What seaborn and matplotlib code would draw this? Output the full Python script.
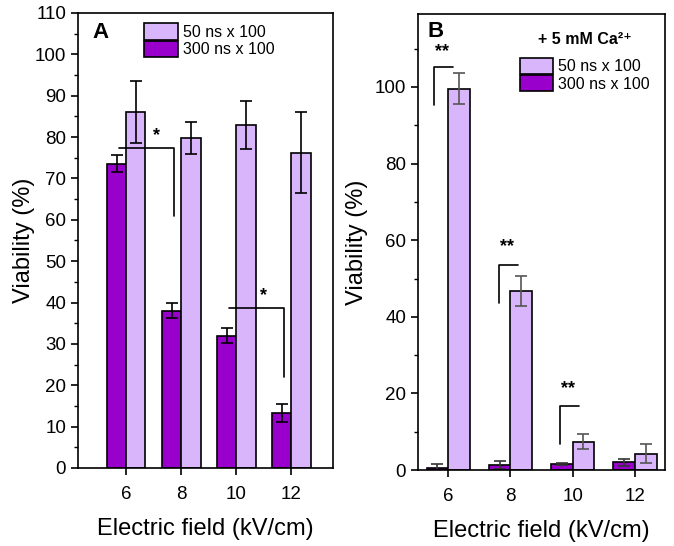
import numpy as np
import pandas as pd
import matplotlib
matplotlib.use('Agg')
import matplotlib.pyplot as plt
from matplotlib.patches import Patch
from matplotlib.ticker import MultipleLocator
import seaborn as sns

# data
field = [6, 8, 10, 12]

# panel A (no Ca)
a_50 = [86.0, 79.8, 83.0, 76.2]
a_50_err = [7.5, 3.9, 5.8, 9.8]
a_300 = [73.6, 38.0, 32.0, 13.2]
a_300_err = [2.1, 1.8, 1.9, 2.2]

# panel B (+ 5 mM Ca2+)
b_50 = [99.6, 46.7, 7.4, 4.3]
b_50_err = [4.1, 3.9, 2.0, 2.5]
b_300 = [0.5, 1.4, 1.6, 2.0]
b_300_err = [1.1, 1.1, 0.3, 0.8]

light = '#d9b5fb'
dark = '#9a00cc'
labels = ['300 ns x 100', '50 ns x 100']

sns.set_theme(style='ticks')
plt.rcParams['font.family'] = ['Liberation Sans', 'DejaVu Sans']
plt.rcParams['text.color'] = 'black'
plt.rcParams['axes.labelcolor'] = 'black'
plt.rcParams['xtick.color'] = 'black'
plt.rcParams['ytick.color'] = 'black'
plt.rcParams['axes.linewidth'] = 1.2
plt.rcParams['xtick.major.width'] = 1.2
plt.rcParams['ytick.major.width'] = 1.2
plt.rcParams['ytick.minor.width'] = 1.0
plt.rcParams['xtick.major.size'] = 5
plt.rcParams['ytick.major.size'] = 5
plt.rcParams['ytick.minor.size'] = 3


def panel(ax, v50, e50, v300, e300, errcol, ypad):
    df = pd.DataFrame({
        'field': field * 2,
        'viab': v300 + v50,
        'pulse': [labels[0]] * 4 + [labels[1]] * 4,
    })
    sns.barplot(data=df, x='field', y='viab', hue='pulse', hue_order=labels,
                palette=[dark, light], saturation=1, native_scale=True,
                width=0.7, gap=0, errorbar=None, edgecolor='black',
                linewidth=1.2, legend=False, ax=ax)
    # error bars on the bar centres
    for i, (vals, errs) in enumerate([(v300, e300), (v50, e50)]):
        off = -0.35 if i == 0 else 0.35
        xs = np.array(field) + off
        ax.errorbar(xs, vals, yerr=errs, fmt='none', ecolor=errcol[i],
                    elinewidth=1.2, capsize=4, capthick=1.2)
    ax.set_xticks(field)
    ax.set_xticklabels([str(f) for f in field])
    ax.tick_params(axis='both', labelsize=13.5, direction='out', top=False, right=False)
    ax.tick_params(axis='x', pad=8)
    ax.set_xlabel('Electric field (kV/cm)', fontsize=17, labelpad=11)
    ax.set_ylabel('Viability (%)', fontsize=17, labelpad=ypad)
    for s in ax.spines.values():
        s.set_visible(True)
        s.set_color('black')


fig = plt.figure(figsize=(6.74, 5.46), dpi=100)
axA = fig.add_axes([0.1157, 0.1429, 0.378, 0.8333])
axB = fig.add_axes([0.620, 0.139, 0.3665, 0.835])

panel(axA, a_50, a_50_err, a_300, a_300_err, ['black', 'black'], 0)
axA.set_xlim(4.25, 13.5)
axA.set_ylim(0, 110)
axA.yaxis.set_major_locator(MultipleLocator(10))
axA.yaxis.set_minor_locator(MultipleLocator(5))

panel(axB, b_50, b_50_err, b_300, b_300_err, ['#333333', '#555555'], 5)
axB.set_xlim(5.02, 12.97)
axB.set_ylim(0, 119)
axB.yaxis.set_major_locator(MultipleLocator(20))
axB.yaxis.set_minor_locator(MultipleLocator(10))

handles = [Patch(facecolor=light, edgecolor='black', linewidth=1.2, label='50 ns x 100'),
           Patch(facecolor=dark, edgecolor='black', linewidth=1.2, label='300 ns x 100')]
axA.legend(handles=handles, loc='upper left', bbox_to_anchor=(0.21, 1.005),
           frameon=False, fontsize=11.5, handlelength=2.1, handleheight=1.2,
           handletextpad=0.3, labelspacing=0.05, borderaxespad=0.4)
legB = axB.legend(handles=handles, loc='upper right', bbox_to_anchor=(0.99, 0.99),
                  frameon=False, fontsize=11.5, handlelength=2.1, handleheight=1.2,
                  handletextpad=0.3, labelspacing=0.05, borderaxespad=0.4,
                  title='+ 5 mM Ca²⁺', title_fontproperties={'weight': 'bold', 'size': 11.5})
legB._legend_box.sep = 8

axA.text(0.055, 0.98, 'A', transform=axA.transAxes, fontsize=16, fontweight='bold', va='top')
axB.text(0.04, 0.985, 'B', transform=axB.transAxes, fontsize=16, fontweight='bold', va='top')

# significance brackets, panel A
axA.plot([5.75, 7.75, 7.75], [77.3, 77.3, 60.8], color='black', lw=1.2)
axA.text(7.1, 78.3, '*', ha='center', va='bottom', fontsize=13, fontweight='bold')
axA.plot([9.72, 11.72, 11.72], [38.6, 38.6, 21.9], color='black', lw=1.2)
axA.text(11.0, 39.6, '*', ha='center', va='bottom', fontsize=13, fontweight='bold')

# significance brackets, panel B
for x0, x1, yh, yl, ys in [(5.55, 6.16, 105.2, 95.4, 107.0),
                           (7.63, 8.25, 53.5, 43.7, 56.0),
                           (9.60, 10.22, 16.7, 6.7, 19.0)]:
    axB.plot([x0, x0, x1], [yl, yh, yh], color='black', lw=1.2)
    axB.text((x0 + x1) / 2 - 0.05, ys, '**', ha='center', va='bottom', fontsize=13, fontweight='bold')

fig.savefig('out.png', dpi=100)
